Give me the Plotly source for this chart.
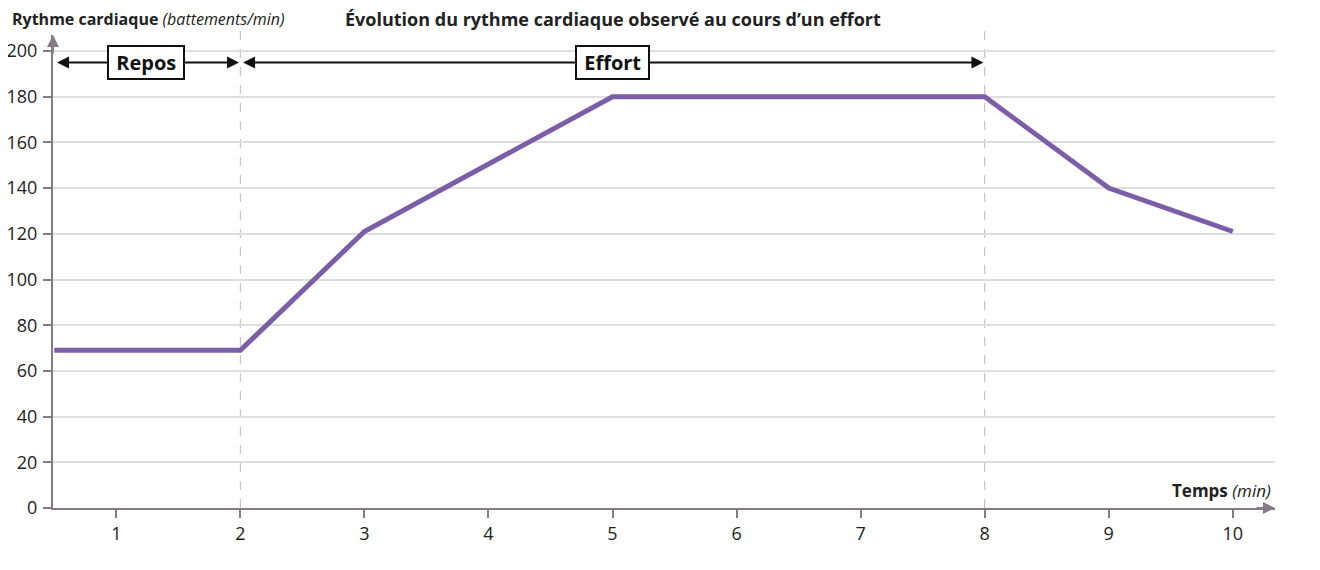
import plotly.graph_objects as go

# Data
temps = [0.5, 2, 3, 5, 8, 9, 10]
rythme = [69, 69, 121, 180, 180, 140, 121]
x_ticks = [1, 2, 3, 4, 5, 6, 7, 8, 9, 10]
y_ticks = [0, 20, 40, 60, 80, 100, 120, 140, 160, 180, 200]
phases = ["Repos", "Effort"]
phase_start = [0.5, 2]
phase_end = [2, 8]
phase_label_x = [1.24, 5]
phase_y = 195

FONT = "Open Sans, Noto Sans, DejaVu Sans, sans-serif"
AXIS_COL = "#857a86"
LINE_COL = "#7b5ea7"

W, H = 1304, 554
ML, MR, MT, MB = 45, 37, 27, 54
PW = W - ML - MR

fig = go.Figure()
fig.add_trace(go.Scatter(x=temps, y=rythme, mode="lines",
                         line=dict(color=LINE_COL, width=5), hoverinfo="skip",
                         showlegend=False))

xmin, xmax = 0.49, 10.34
ymin, ymax = 0, 207

fig.update_layout(
    width=W, height=H,
    margin=dict(l=ML, r=MR, t=MT, b=MB, autoexpand=False),
    paper_bgcolor="white", plot_bgcolor="white",
    font=dict(family=FONT, color="#222222", size=15),
    xaxis=dict(range=[xmin, xmax], tickvals=x_ticks, showgrid=False, zeroline=False,
               showline=True, linecolor=AXIS_COL, linewidth=2, ticks="outside",
               ticklen=8, tickcolor=AXIS_COL, tickwidth=2, automargin=False,
               tickfont=dict(size=18, family=FONT, color="#222")),
    yaxis=dict(range=[ymin, ymax], tickvals=y_ticks, showgrid=True, gridcolor="#dedede",
               gridwidth=1.5, zeroline=False, showline=True, linecolor=AXIS_COL,
               linewidth=2, ticks="outside", ticklen=8, tickcolor=AXIS_COL, tickwidth=2,
               automargin=False, ticklabelstandoff=2,
               tickfont=dict(size=18, family=FONT, color="#222")),
)

# dashed phase separators
for xv in [2, 8]:
    fig.add_shape(type="line", xref="x", yref="paper", x0=xv, x1=xv, y0=0, y1=1.01,
                  line=dict(color="#b8b8b8", width=1, dash="dash"), layer="below")

# phase arrows with boxed labels
for name, x0, x1, lx in zip(phases, phase_start, phase_end, phase_label_x):
    fig.add_annotation(x=x1 - 0.01, y=phase_y, ax=x0 + 0.01, ay=phase_y,
                       xref="x", yref="y", axref="x", ayref="y", text="",
                       showarrow=True, arrowhead=2, arrowside="end+start",
                       arrowsize=1.2, arrowwidth=2, arrowcolor="#111")
    fig.add_annotation(x=lx, y=phase_y, xref="x", yref="y",
                       text="&nbsp;<b>%s</b>&nbsp;" % name,
                       showarrow=False, bgcolor="white", bordercolor="#111",
                       borderwidth=2, borderpad=2,
                       font=dict(size=20, family=FONT, color="#111"))

# axis arrowheads
fig.add_annotation(x=1.0, y=0, ax=-20, ay=0, xref="paper", yref="paper",
                   axref="pixel", ayref="pixel", text="", showarrow=True,
                   arrowhead=2, arrowsize=1.2, arrowwidth=2, arrowcolor=AXIS_COL)
fig.add_annotation(x=0, y=1.0, ax=0, ay=20, xref="paper", yref="paper",
                   axref="pixel", ayref="pixel", text="", showarrow=True,
                   arrowhead=2, arrowsize=1.2, arrowwidth=2, arrowcolor=AXIS_COL)

# texts
fig.add_annotation(xref="paper", yref="paper", x=-43 / PW, y=1.0, yshift=16,
                   xanchor="left", yanchor="middle", showarrow=False,
                   text="<b>Rythme cardiaque</b> <i>(battements/min)</i>",
                   font=dict(size=16, family=FONT, color="#222"))
fig.add_annotation(xref="paper", yref="paper", x=(605 - ML) / PW, y=1.0, yshift=16,
                   xanchor="center", yanchor="middle", showarrow=False,
                   text="<b>Évolution du rythme cardiaque observé au cours d’un effort</b>",
                   font=dict(size=18, family=FONT, color="#222"))
fig.add_annotation(xref="paper", yref="paper", x=0.998, y=0, yshift=18,
                   xanchor="right", yanchor="middle", showarrow=False,
                   text="<b>Temps</b> <i>(min)</i>",
                   font=dict(size=17, family=FONT, color="#222"))

fig.write_html("out.html")
